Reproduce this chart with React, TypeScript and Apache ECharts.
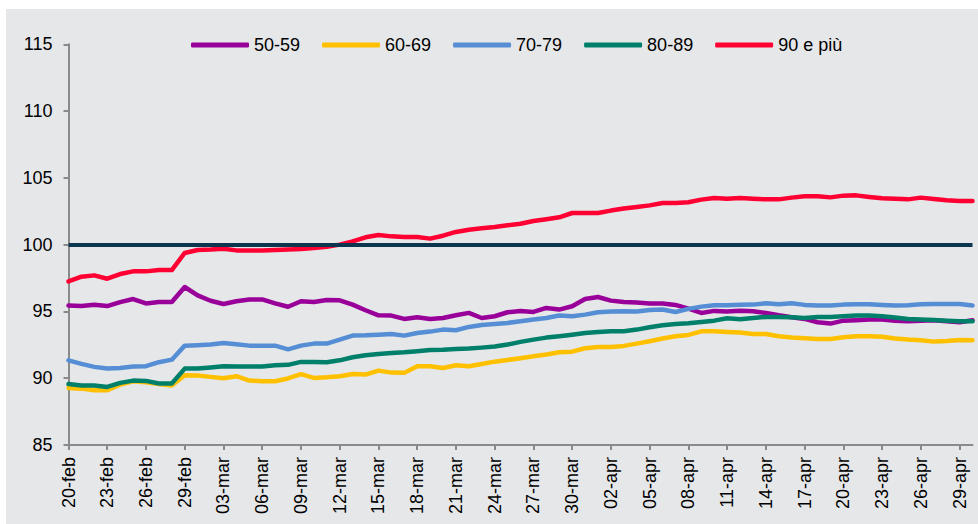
import React, { useEffect, useRef } from "react";
import * as echarts from "echarts";

const categories = [
  "20-feb", "21-feb", "22-feb", "23-feb", "24-feb", "25-feb", "26-feb", "27-feb", "28-feb", "29-feb",
  "01-mar", "02-mar", "03-mar", "04-mar", "05-mar", "06-mar", "07-mar", "08-mar", "09-mar", "10-mar",
  "11-mar", "12-mar", "13-mar", "14-mar", "15-mar", "16-mar", "17-mar", "18-mar", "19-mar", "20-mar",
  "21-mar", "22-mar", "23-mar", "24-mar", "25-mar", "26-mar", "27-mar", "28-mar", "29-mar", "30-mar",
  "31-mar", "01-apr", "02-apr", "03-apr", "04-apr", "05-apr", "06-apr", "07-apr", "08-apr", "09-apr",
  "10-apr", "11-apr", "12-apr", "13-apr", "14-apr", "15-apr", "16-apr", "17-apr", "18-apr", "19-apr",
  "20-apr", "21-apr", "22-apr", "23-apr", "24-apr", "25-apr", "26-apr", "27-apr", "28-apr", "29-apr",
  "30-apr",
];

const s50_59 = [
  95.44, 95.4, 95.5, 95.4, 95.7, 95.93, 95.6, 95.7, 95.7, 96.83,
  96.2, 95.8, 95.56, 95.76, 95.9, 95.9, 95.6, 95.35, 95.76, 95.71,
  95.86, 95.83, 95.51, 95.09, 94.71, 94.69, 94.44, 94.56, 94.44, 94.51,
  94.71, 94.89, 94.51, 94.64, 94.94, 95.03, 94.96, 95.26, 95.14, 95.39,
  95.93, 96.08, 95.81, 95.71, 95.66, 95.59, 95.59, 95.49, 95.21, 94.89,
  95.04, 94.99, 95.05, 95.01, 94.89, 94.71, 94.56, 94.44, 94.19, 94.09,
  94.31, 94.34, 94.39, 94.39, 94.31, 94.26, 94.31, 94.34, 94.26, 94.19,
  94.34,
];

const s60_69 = [
  89.27, 89.22, 89.1, 89.1, 89.52, 89.77, 89.7, 89.57, 89.45, 90.22,
  90.2, 90.1, 90.0, 90.15, 89.82, 89.77, 89.77, 89.98, 90.3, 90.02,
  90.07, 90.15, 90.32, 90.27, 90.57, 90.42, 90.4, 90.9, 90.9, 90.77,
  90.97, 90.9, 91.07, 91.24, 91.37, 91.5, 91.64, 91.77, 91.94, 91.99,
  92.24, 92.34, 92.34, 92.42, 92.59, 92.77, 92.97, 93.14, 93.24, 93.51,
  93.51, 93.46, 93.42, 93.31, 93.31, 93.14, 93.04, 92.99, 92.94, 92.94,
  93.07, 93.14, 93.14, 93.11, 92.97, 92.89, 92.84, 92.74, 92.79, 92.87,
  92.84,
];

const s70_79 = [
  91.34, 91.07, 90.85, 90.72, 90.77, 90.87, 90.9, 91.2, 91.39, 92.44,
  92.47, 92.52, 92.64, 92.54, 92.44, 92.44, 92.44, 92.16, 92.44, 92.59,
  92.59, 92.89, 93.19, 93.21, 93.26, 93.31, 93.19, 93.39, 93.49, 93.64,
  93.59, 93.84, 93.99, 94.06, 94.14, 94.26, 94.39, 94.51, 94.69, 94.64,
  94.76, 94.94, 94.99, 95.01, 94.99, 95.11, 95.14, 94.96, 95.19, 95.36,
  95.46, 95.46, 95.5, 95.51, 95.61, 95.54, 95.61, 95.49, 95.44, 95.44,
  95.51, 95.54, 95.54, 95.49, 95.44, 95.46, 95.54, 95.56, 95.56, 95.56,
  95.44,
];

const s80_89 = [
  89.57, 89.45, 89.45, 89.35, 89.65, 89.82, 89.8, 89.6, 89.6, 90.72,
  90.72, 90.8, 90.9, 90.87, 90.87, 90.87, 90.97, 91.0, 91.22, 91.22,
  91.19, 91.34, 91.57, 91.72, 91.82, 91.89, 91.94, 92.02, 92.12, 92.14,
  92.19, 92.22, 92.29, 92.37, 92.52, 92.72, 92.89, 93.04, 93.14, 93.26,
  93.39, 93.46, 93.51, 93.51, 93.64, 93.81, 93.96, 94.06, 94.11, 94.21,
  94.31, 94.49, 94.42, 94.51, 94.59, 94.59, 94.56, 94.51, 94.59, 94.59,
  94.64, 94.69, 94.69, 94.64, 94.54, 94.44, 94.39, 94.36, 94.31, 94.26,
  94.26,
];

const s90plus = [
  97.25, 97.6, 97.7, 97.45, 97.8, 98.0, 98.0, 98.1, 98.1, 99.38,
  99.6, 99.63, 99.7, 99.57, 99.57, 99.57, 99.6, 99.63, 99.68, 99.75,
  99.85, 100.0, 100.25, 100.55, 100.72, 100.62, 100.57, 100.57, 100.45, 100.67,
  100.95, 101.12, 101.22, 101.32, 101.45, 101.57, 101.77, 101.9, 102.05, 102.37,
  102.37, 102.37, 102.55, 102.7, 102.82, 102.94, 103.12, 103.12, 103.17, 103.37,
  103.49, 103.44, 103.49, 103.44, 103.39, 103.39, 103.52, 103.62, 103.62, 103.54,
  103.67, 103.69, 103.57, 103.47, 103.44, 103.39, 103.52, 103.42, 103.32, 103.27,
  103.27,
];

const seriesNames = ["50-59", "60-69", "70-79", "80-89", "90 e più"];
const seriesColors = ["#990099", "#ffc000", "#558ed5", "#00806a", "#ff0033"];
const seriesData = [s50_59, s60_69, s70_79, s80_89, s90plus];
const referenceLevel = 100;
const yTicks = { min: 85, max: 115, interval: 5 };

const FONT = "'Liberation Sans', Arial, sans-serif";

export default function App() {
  const ref = useRef<HTMLDivElement>(null);

  useEffect(() => {
    if (!ref.current) return;
    const chart = echarts.init(ref.current, undefined, { renderer: "svg" });

    const series: any[] = seriesNames.map((name, i) => ({
      name,
      type: "line",
      data: seriesData[i],
      symbol: "none",
      smooth: false,
      lineStyle: { color: seriesColors[i], width: 4.5, cap: "round", join: "round" },
      itemStyle: { color: seriesColors[i] },
      z: 2 + i,
    }));

    series[series.length - 1].markLine = {
      silent: true,
      symbol: "none",
      label: { show: false },
      lineStyle: { color: "#0c3550", width: 4, type: "solid" },
      data: [{ yAxis: referenceLevel }],
      z: 20,
    };

    chart.setOption({
      animation: false,
      backgroundColor: "transparent",
      textStyle: { fontFamily: FONT },
      graphic: [
        {
          type: "rect",
          shape: { x: 6, y: 9, width: 972, height: 515 },
          style: { fill: "#e6e7e9" },
          z: -10,
          silent: true,
        },
      ],
      legend: {
        top: 31,
        left: 186,
        icon: "roundRect",
        itemWidth: 58,
        itemHeight: 5,
        itemGap: 22,
        textStyle: { fontFamily: FONT, fontSize: 18, color: "#000" },
        data: seriesNames,
      },
      grid: { left: 68.5, right: 5.5, top: 44.3, bottom: 79, containLabel: false },
      xAxis: {
        type: "category",
        data: categories,
        boundaryGap: false,
        axisLine: { lineStyle: { color: "#8a8a8a", width: 2 } },
        axisTick: { interval: 2, length: 5, lineStyle: { color: "#8a8a8a", width: 2 } },
        axisLabel: {
          interval: 2,
          rotate: 90,
          margin: 12,
          fontFamily: FONT,
          fontSize: 18,
          color: "#000",
        },
        splitLine: { show: false },
      },
      yAxis: {
        type: "value",
        min: yTicks.min,
        max: yTicks.max,
        interval: yTicks.interval,
        axisLine: { show: true, lineStyle: { color: "#8a8a8a", width: 2 } },
        axisTick: { show: true, length: 5, lineStyle: { color: "#8a8a8a", width: 2 } },
        axisLabel: { margin: 16, fontFamily: FONT, fontSize: 18, color: "#000" },
        splitLine: { show: false },
      },
      series,
    });

    return () => chart.dispose();
  }, []);

  return (
    <div
      ref={ref}
      style={{ position: "absolute", left: 0, top: 0, width: 978, height: 524 }}
    />
  );
}
